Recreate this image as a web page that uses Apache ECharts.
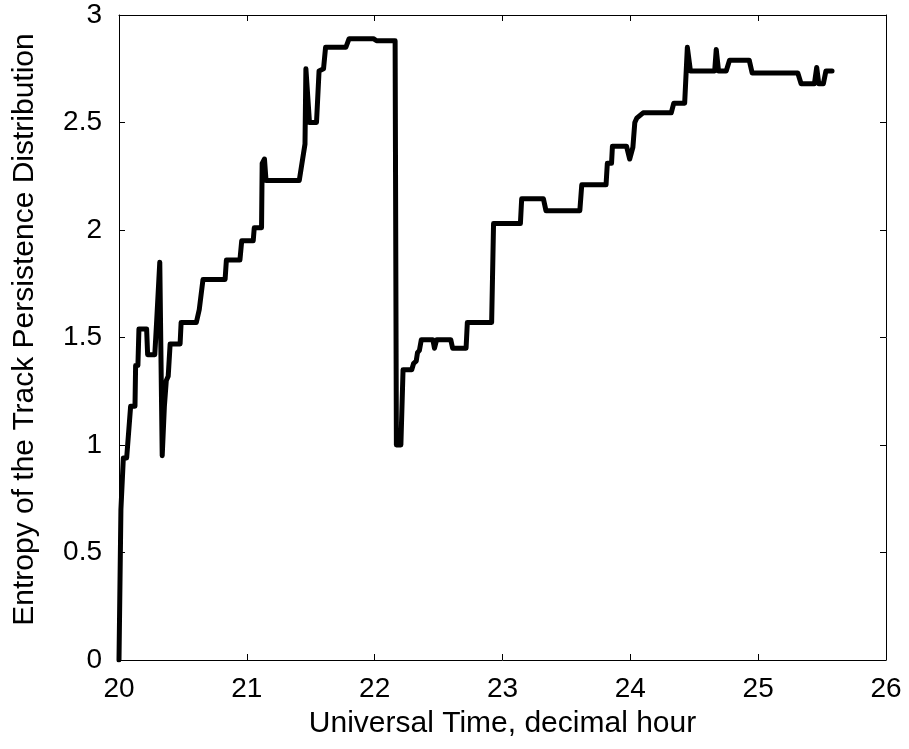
<!DOCTYPE html>
<html>
<head>
<meta charset="utf-8">
<title>Entropy of the Track Persistence Distribution</title>
<script src="https://cdn.jsdelivr.net/npm/echarts/dist/echarts.min.js"></script>
<style>
	html, body { margin : 0; padding : 0; background : #fff; }
	#entropyChart { width : 909px; height : 749px; }
</style>
</head>
<body>
<div id="entropyChart"></div>
<script>
// time (UT, decimal hour) of each corner of the trace
var timeHours = [
	20.000, 20.015, 20.034, 20.060, 20.091, 20.125, 20.130, 20.148, 20.156, 20.216,
	20.224, 20.280, 20.295, 20.319, 20.338, 20.355, 20.370, 20.385, 20.400, 20.478,
	20.486, 20.605, 20.628, 20.657, 20.830, 20.840, 20.946, 20.960, 21.050, 21.058,
	21.115, 21.120, 21.138, 21.150, 21.410, 21.455, 21.462, 21.470, 21.490, 21.545,
	21.565, 21.600, 21.616, 21.775, 21.800, 21.990, 22.015, 22.160, 22.170, 22.205,
	22.222, 22.290, 22.305, 22.325, 22.335, 22.350, 22.365, 22.455, 22.468, 22.485,
	22.595, 22.610, 22.715, 22.725, 22.915, 22.930, 23.140, 23.150, 23.320, 23.340,
	23.605, 23.620, 23.810, 23.820, 23.853, 23.860, 23.970, 23.995, 24.020, 24.035,
	24.050, 24.100, 24.320, 24.340, 24.425, 24.446, 24.470, 24.660, 24.672, 24.690,
	24.750, 24.776, 24.930, 24.953, 25.310, 25.336, 25.440, 25.458, 25.474, 25.510,
	25.530, 25.578
];
// entropy value at each of those times
var entropyValues = [
	0.00, 0.70, 0.94, 0.94, 1.18, 1.18, 1.37, 1.37, 1.54, 1.54,
	1.42, 1.42, 1.58, 1.85, 0.95, 1.18, 1.30, 1.32, 1.47, 1.47,
	1.57, 1.57, 1.63, 1.77, 1.77, 1.86, 1.86, 1.95, 1.95, 2.01,
	2.01, 2.31, 2.33, 2.23, 2.23, 2.40, 2.75, 2.75, 2.50, 2.50,
	2.74, 2.75, 2.85, 2.85, 2.89, 2.89, 2.88, 2.88, 1.00, 1.00,
	1.35, 1.35, 1.38, 1.39, 1.43, 1.44, 1.49, 1.49, 1.45, 1.49,
	1.49, 1.45, 1.45, 1.57, 1.57, 2.03, 2.03, 2.145, 2.145, 2.09,
	2.09, 2.21, 2.21, 2.31, 2.31, 2.39, 2.39, 2.33, 2.385, 2.50,
	2.52, 2.545, 2.545, 2.59, 2.59, 2.85, 2.74, 2.74, 2.84, 2.74,
	2.74, 2.79, 2.79, 2.73, 2.73, 2.68, 2.68, 2.756, 2.68, 2.68,
	2.74, 2.74
];
var xRange = [ 20, 26 ];
var yRange = [ 0, 3 ];
var xLabel = 'Universal Time, decimal hour';
var yLabel = 'Entropy of the Track Persistence Distribution';

var fontName = 'Liberation Sans';

/**
 * build one axis of the box (labelled or bare)
 */
function makeAxis(range, step, position, labelled, name, nameGap, namePad) {
	return {
		type : 'value',
		position : position,
		min : range[0],
		max : range[1],
		interval : step,
		name : labelled ? name : '',
		nameLocation : 'middle',
		nameGap : nameGap,
		nameTextStyle : {
			color : '#000',
			fontFamily : fontName,
			fontSize : 30,
			padding : namePad || 0
		},
		axisLine : {
			show : true,
			onZero : false,
			lineStyle : {
				color : '#000',
				width : 1
			}
		},
		axisTick : {
			show : true,
			inside : true,
			length : 6,
			lineStyle : {
				color : '#000'
			}
		},
		axisLabel : {
			show : labelled,
			color : '#000',
			fontFamily : fontName,
			fontSize : 28,
			margin : position == 'bottom' ? 15 : 17
		},
		splitLine : {
			show : false
		}
	};
}

function buildData() {
	var data = [];
	for ( var i = 0; i < timeHours.length; i++) {
		data.push([ timeHours[i], entropyValues[i] ]);
	}
	return data;
}

var chartOption = {
	animation : false,
	backgroundColor : '#fff',
	grid : {
		left : 119,
		right : 23,
		top : 15,
		bottom : 89
	},
	xAxis : [ makeAxis(xRange, 1, 'bottom', true, xLabel, 49),
			makeAxis(xRange, 1, 'top', false, '', 0) ],
	yAxis : [ makeAxis(yRange, 0.5, 'left', true, yLabel, 79, [ 0, 0, 0, 16 ]),
			makeAxis(yRange, 0.5, 'right', false, '', 0) ],
	series : [ {
		name : 'entropy',
		type : 'line',
		showSymbol : false,
		symbol : 'none',
		data : buildData(),
		lineStyle : {
			color : '#000',
			width : 5,
			cap : 'round',
			join : 'round'
		}
	} ]
};

var entropyChart = echarts.init(document.getElementById('entropyChart'));
entropyChart.setOption(chartOption);
</script>
</body>
</html>
